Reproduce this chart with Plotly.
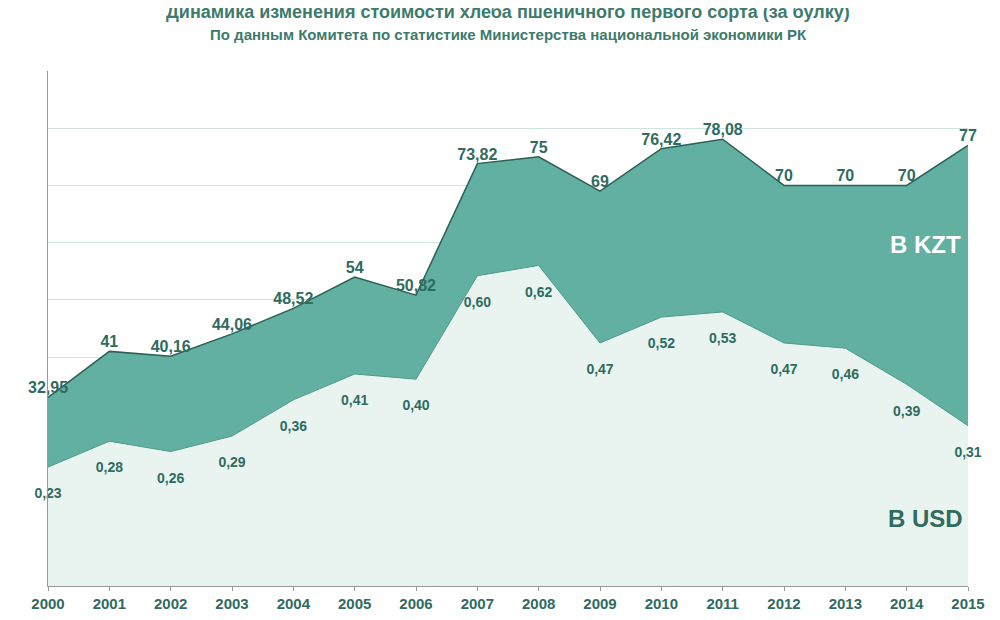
import plotly.graph_objects as go

years = list(range(2000, 2016))
kzt = [32.95, 41, 40.16, 44.06, 48.52, 54, 50.82, 73.82, 75, 69, 76.42, 78.08, 70, 70, 70, 77]
usd = [0.23, 0.28, 0.26, 0.29, 0.36, 0.41, 0.40, 0.60, 0.62, 0.47, 0.52, 0.53, 0.47, 0.46, 0.39, 0.31]
kzt_lbl = ["32,95", "41", "40,16", "44,06", "48,52", "54", "50,82", "73,82", "75", "69",
           "76,42", "78,08", "70", "70", "70", "77"]
usd_lbl = ["0,23", "0,28", "0,26", "0,29", "0,36", "0,41", "0,40", "0,60", "0,62", "0,47",
           "0,52", "0,53", "0,47", "0,46", "0,39", "0,31"]

dark = "#2f6b5f"
fig = go.Figure()
fig.add_trace(go.Scatter(x=years, y=kzt, fill="tozeroy", mode="lines+text",
                         line=dict(color="#2c5f55", width=1.5), fillcolor="#62b0a1",
                         text=[f"<b>{t}</b>" for t in kzt_lbl], textposition="top center",
                         textfont=dict(size=16, color=dark, family="Liberation Sans"),
                         cliponaxis=False, showlegend=False))
fig.add_trace(go.Scatter(x=years, y=usd, fill="tozeroy", mode="lines", yaxis="y2",
                         line=dict(color="#4f9a8b", width=1), fillcolor="#e9f4f1",
                         showlegend=False))
fig.add_trace(go.Scatter(x=years, y=[v - 0.04 for v in usd], mode="text", yaxis="y2",
                         text=[f"<b>{t}</b>" for t in usd_lbl], textposition="bottom center",
                         textfont=dict(size=14, color=dark, family="Liberation Sans"),
                         cliponaxis=False, showlegend=False))

fig.add_annotation(x=2014.3, y=0.66, yref="y2", text="<b>В KZT</b>", showarrow=False,
                   font=dict(size=24, color="white", family="Liberation Sans"))
fig.add_annotation(x=2014.3, y=0.13, yref="y2", text="<b>В USD</b>", showarrow=False,
                   font=dict(size=24, color=dark, family="Liberation Sans"))
fig.add_annotation(xref="paper", yref="paper", x=0.5, y=1.115, yanchor="middle", showarrow=False,
                   text="<b>Динамика изменения стоимости хлеба пшеничного первого сорта (за булку)</b>",
                   font=dict(size=18, color="#3d7a6c", family="Liberation Sans"))
fig.add_annotation(xref="paper", yref="paper", x=0.5, y=1.07, yanchor="middle", showarrow=False,
                   text="<b>По данным Комитета по статистике Министерства национальной экономики РК</b>",
                   font=dict(size=15, color="#3d7a6c", family="Liberation Sans"))

fig.update_layout(
    width=1000, height=620, paper_bgcolor="white", plot_bgcolor="white",
    margin=dict(l=40, r=40, t=63, b=42, autoexpand=False),
    xaxis=dict(range=[2000, 2015], tickmode="array", tickvals=years, showgrid=False,
               ticks="outside", ticklen=4, tickcolor="#999", showline=True, linecolor="#999",
               tickfont=dict(size=15, color=dark, family="Liberation Sans"),
               ticktext=[f"<b>{y}</b>" for y in years], automargin=False),
    yaxis=dict(range=[0, 90], dtick=10, showticklabels=False, gridcolor="#cfe3dd",
               showline=True, linecolor="#999", zeroline=False, automargin=False),
    yaxis2=dict(range=[0, 0.996], overlaying="y", showticklabels=False, showgrid=False,
                zeroline=False, automargin=False),
)
fig.write_html("out.html")
